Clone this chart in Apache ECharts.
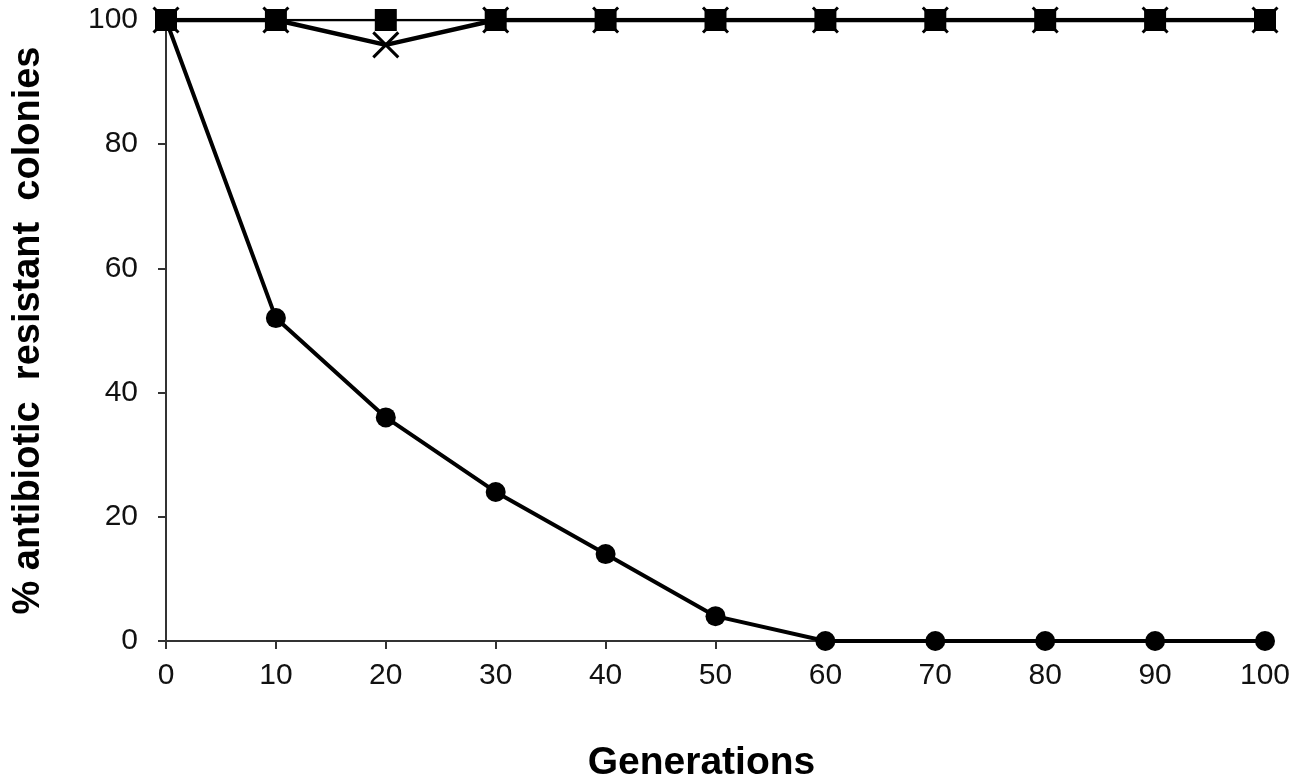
<!DOCTYPE html>
<html>
<head>
<meta charset="utf-8">
<script src="https://cdn.jsdelivr.net/npm/echarts@6/dist/echarts.min.js"></script>
<style>
  html, body { margin: 0; padding: 0; background: #fff; }
  #container { width: 1300px; height: 783px; }
</style>
</head>
<body>
<div id="container"></div>
<script>
var generations = [0, 10, 20, 30, 40, 50, 60, 70, 80, 90, 100];
var circleValues = [100, 52, 36, 24, 14, 4, 0, 0, 0, 0, 0];
var crossValues = [100, 100, 96, 100, 100, 100, 100, 100, 100, 100, 100];
var squareValues = [100, 100, 100, 100, 100, 100, 100, 100, 100, 100, 100];

function pairs(vals) {
    return generations.map(function (g, i) { return [g, vals[i]]; });
}

var myChart = echarts.init(document.getElementById('container'));

var option = {
    backgroundColor: '#fff',
    animation: false,
    grid: { left: 166, right: 35, top: 20, bottom: 142, outerBoundsMode: 'none', containLabel: false },
    xAxis: {
        type: 'value',
        min: 0,
        max: 100,
        interval: 10,
        name: 'Generations',
        nameLocation: 'middle',
        nameGap: 103,
        nameTextStyle: { fontFamily: 'Liberation Sans', fontWeight: 'bold', fontSize: 39, color: '#000', padding: [0, 28, 0, 0] },
        axisLine: { lineStyle: { color: '#333', width: 2 } },
        axisTick: { length: 8, lineStyle: { color: '#333', width: 2 } },
        axisLabel: { fontFamily: 'Liberation Sans', fontSize: 30, color: '#111', margin: 20 },
        splitLine: { show: false }
    },
    yAxis: {
        type: 'value',
        min: 0,
        max: 100,
        interval: 20,
        name: '% antibiotic  resistant  colonies',
        nameLocation: 'middle',
        nameGap: 118,
        nameTextStyle: { fontFamily: 'Liberation Sans', fontWeight: 'bold', fontSize: 38, color: '#000' },
        axisLine: { show: true, lineStyle: { color: '#333', width: 2 } },
        axisTick: { show: true, length: 8, lineStyle: { color: '#333', width: 2 } },
        axisLabel: { fontFamily: 'Liberation Sans', fontSize: 30, color: '#111', margin: 28 },
        splitLine: { show: false }
    },
    series: [
        {
            name: 'circles',
            type: 'line',
            data: pairs(circleValues),
            symbol: 'circle',
            symbolSize: 20,
            itemStyle: { color: '#000' },
            lineStyle: { color: '#000', width: 4 },
            z: 2
        },
        {
            name: 'crosses',
            type: 'line',
            data: pairs(crossValues),
            symbol: 'path://M0,0L10,10M10,0L0,10',
            symbolSize: 25,
            itemStyle: { color: 'none', borderColor: '#000', borderWidth: 3 },
            lineStyle: { color: '#000', width: 4.5 },
            z: 3
        },
        {
            name: 'squares',
            type: 'line',
            data: pairs(squareValues),
            symbol: 'rect',
            symbolSize: 22,
            itemStyle: { color: '#000' },
            lineStyle: { color: '#000', width: 2.5 },
            z: 4
        }
    ]
};
myChart.setOption(option);
</script>
</body>
</html>
